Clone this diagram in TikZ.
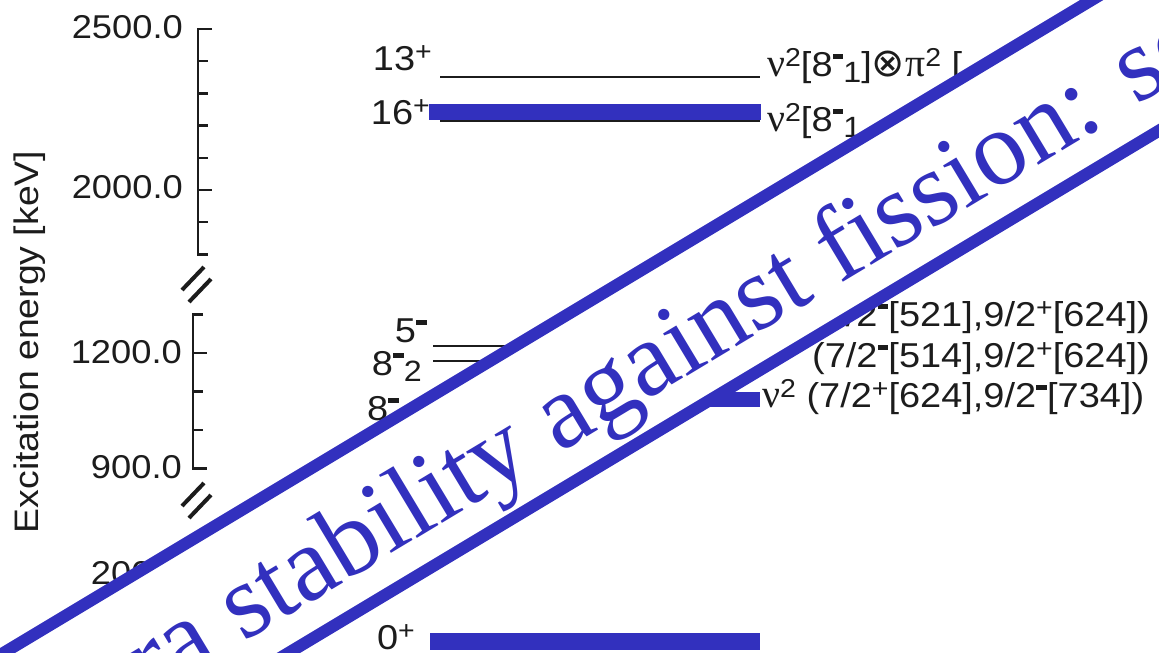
\documentclass[tikz,border=0pt]{standalone}
\usepackage{graphicx}
\usepackage{fontspec}
\setmainfont{Liberation Sans}[FakeStretch=1.1]
\newfontfamily\grk{Liberation Serif}[Scale=1.15]
\newfontfamily\symf{DejaVu Sans}[Scale=1.15]
\newfontfamily\banf{Liberation Serif}
\usetikzlibrary{positioning}
\definecolor{Blu}{RGB}{50,48,190}
\definecolor{Ink}{RGB}{28,28,28}
\newcommand\hi[1]{\raisebox{0.28em}{\scalebox{0.75}{#1}}}
\newcommand\lo[1]{\raisebox{-0.2em}{\scalebox{0.85}{#1}}}
\newcommand\mi{\hi{\rule[0.3em]{0.42em}{0.17em}}}
\tikzset{
  axisline/.style={draw=Ink,line width=2.4pt},
  brk/.style={draw=Ink,line width=4pt},
  lvl/.style={draw=Ink,line width=2.8pt},
  hilite/.style={fill=Blu},
  ticklab/.style={font=\fontsize{33}{38}\selectfont,text=Ink,inner sep=0pt},
  jlab/.style={font=\fontsize{34.5}{40}\selectfont,text=Ink,inner sep=0pt},
  conf/.style={font=\fontsize{34.5}{40}\selectfont,text=Ink,inner sep=0pt,anchor=base west},
  stripe/.style={draw=Blu,line width=12pt},
  bantext/.style={font=\banf\fontsize{106}{120}\selectfont,text=Blu,inner sep=0pt}
}

\begin{document}
\begin{tikzpicture}[x=1pt,y=-1pt]
\useasboundingbox (0,0) rectangle (1159,653);
\clip (0,0) rectangle (1159,653);

% energy axis, three pieces
\draw[axisline] (212,29) -- (198,29) -- (198,254.4) -- (208,254.4);
\draw[axisline] (198,190) -- (212,190);
\foreach \t in {61.2,93.4,125.6,157.8,222.2} \draw[axisline] (198,\t) -- (208,\t);
\draw[axisline] (203,314.5) -- (193,314.5) -- (193,468.5) -- (207,468.5);
\draw[axisline] (193,353) -- (207,353);
\foreach \t in {391.5,430} \draw[axisline] (193,\t) -- (203,\t);
\draw[axisline] (200,538) -- (190,538) -- (190,660);
\draw[axisline] (190,572) -- (204,572);
\draw[axisline] (190,606) -- (200,606);
\draw[axisline] (190,640) -- (204,640);
\foreach \yb in {290,506} {
  \draw[brk] (182,\yb) -- ++(22,-23);
  \draw[brk] (189,\yb+12) -- ++(22,-23);
}
\node[ticklab,anchor=east] (e2500) at (183,27) {2500.0};
\node[ticklab,anchor=east] (e2000) at (183,187) {2000.0};
\node[ticklab,anchor=east] (e1200) at (182,352) {1200.0};
\node[ticklab,anchor=east] (e900) at (182,467) {900.0};
\node[ticklab,anchor=east] (e200) at (182,573) {200.0};
\node[ticklab,font=\fontsize{34}{40}\selectfont,rotate=90] (etitle) at (30,342) {Excitation energy [keV]};

% levels
\coordinate (a13) at (440,77);
\coordinate (b13) at (760,77);
\draw[lvl] (a13) -- (b13);
\node[jlab,anchor=base east] (j13) at (432,70) {13\hi{+}};
\node[conf] (c13) at (767,76) {{\grk ν}\hi{2}[8\mi\lo{1}]{\symf ⊗}{\grk π}\hi{2} [};

\coordinate (a16) at (440,121);
\coordinate (b16) at (760,121);
\draw[lvl] (a16) -- (b16);
\fill[hilite] (429,104) rectangle (761,120);
\node[jlab,anchor=base east] (j16) at (430,124) {16\hi{+}};
\node[conf] (c16) at (767,131) {{\grk ν}\hi{2}[8\mi\lo{1}};

\coordinate (a5) at (433,346);
\coordinate (b5) at (760,346);
\draw[lvl] (a5) -- (b5);
\node[jlab,anchor=base east] (j5) at (427,342) {5\mi};
\node[conf] (c5) at (812,326) {(7/2\mi[521],9/2\hi{+}[624])};

\coordinate (a82) at (433,361);
\coordinate (b82) at (760,361);
\draw[lvl] (a82) -- (b82);
\node[jlab,anchor=base east] (j82) at (422,375) {8\mi\lo{2}};
\node[conf] (c82) at (812,367) {(7/2\mi[514],9/2\hi{+}[624])};

\fill[hilite] (427,392) rectangle (760,407);
\node[jlab,anchor=base west] (j81) at (367,420) {8\mi};
\node[conf] (c81) at (762,407) {{\grk ν}\hi{2} (7/2\hi{+}[624],9/2\mi[734])};

\fill[hilite] (430,633) rectangle (760,650);
\node[jlab,anchor=base east] (j0) at (415,649) {0\hi{+}};

% banner over the scheme
\fill[white] (-60,691) -- (1220,-77) -- (1220,94) -- (-60,862) -- cycle;
\draw[stripe] (-60,691) -- (1220,-77);
\draw[stripe] (-60,862) -- (1220,94);
\node[bantext,rotate=31,anchor=base west] (motto) at (150,699) {ra stability against fission: so};
\end{tikzpicture}
\end{document}
